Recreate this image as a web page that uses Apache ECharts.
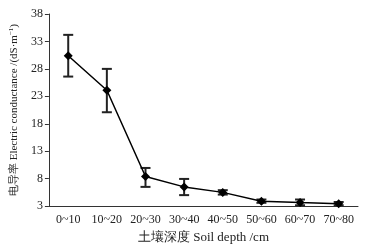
<!DOCTYPE html>
<html>
<head>
<meta charset="utf-8">
<script src="https://cdn.jsdelivr.net/npm/echarts@6/dist/echarts.min.js"></script>
<style>
  html, body { margin: 0; padding: 0; background: #fff; }
  #chart { width: 370px; height: 249px; }
</style>
</head>
<body>
<div id="chart"></div>
<script>
const depths = ['0~10', '10~20', '20~30', '30~40', '40~50', '50~60', '60~70', '70~80']
const conductance = [30.4, 24.1, 8.4, 6.5, 5.5, 3.9, 3.65, 3.45]
const errLow = [26.6, 20.1, 6.5, 5.0, 5.1, 3.6, 3.15, 3.15]
const errHigh = [34.2, 28.0, 9.95, 7.95, 5.9, 4.2, 4.2, 3.75]

const errData = depths.map((d, i) => [i, errLow[i], errHigh[i]])

const chart = echarts.init(document.getElementById('chart'))

const font = 'Liberation Serif, Times New Roman, serif'

chart.setOption({
  animation: false,
  grid: { left: 47, right: 12, top: 14, bottom: 37 },
  xAxis: {
    type: 'category',
    data: depths,
    boundaryGap: true,
    name: '土壤深度 Soil depth /cm',
    nameLocation: 'middle',
    nameGap: 21,
    nameTextStyle: { fontFamily: font, fontSize: 13, color: '#222' },
    axisLine: { lineStyle: { color: '#333', width: 1 } },
    axisTick: { inside: true, length: 4, lineStyle: { color: '#333' } },
    axisLabel: { interval: 0, fontFamily: font, fontSize: 12, color: '#222', margin: 8 },
    splitLine: { show: false }
  },
  yAxis: {
    type: 'value',
    min: 3,
    max: 38,
    interval: 5,
    name: '{n|电导率 Electric conductance /(dS·m}{s|−1}{n|)}',
    nameLocation: 'middle',
    nameGap: 25,
    nameRotate: 90,
    nameTextStyle: {
      rich: {
        n: { fontFamily: font, fontSize: 11, color: '#222' },
        s: { fontFamily: font, fontSize: 7, color: '#222', padding: [0, 0, 6, 0] }
      }
    },
    axisLine: { show: true, lineStyle: { color: '#333', width: 1 } },
    axisTick: { show: true, length: 4, lineStyle: { color: '#333' } },
    axisLabel: { fontFamily: font, fontSize: 12, color: '#222', margin: 6 },
    splitLine: { show: false }
  },
  series: [
    {
      type: 'custom',
      data: errData,
      z: 3,
      renderItem: function (params, api) {
        const x = api.value(0)
        const lo = api.coord([x, api.value(1)])
        const hi = api.coord([x, api.value(2)])
        const hw = 5
        const style = { stroke: '#222', lineWidth: 2 }
        return {
          type: 'group',
          children: [
            { type: 'line', shape: { x1: lo[0], y1: lo[1], x2: hi[0], y2: hi[1] }, style: style },
            { type: 'line', shape: { x1: hi[0] - hw, y1: hi[1], x2: hi[0] + hw, y2: hi[1] }, style: style },
            { type: 'line', shape: { x1: lo[0] - hw, y1: lo[1], x2: lo[0] + hw, y2: lo[1] }, style: style }
          ]
        }
      }
    },
    {
      type: 'line',
      data: conductance,
      z: 4,
      symbol: 'diamond',
      symbolSize: 9,
      lineStyle: { color: '#000', width: 1.5 },
      itemStyle: { color: '#000' }
    }
  ]
})
</script>
</body>
</html>
